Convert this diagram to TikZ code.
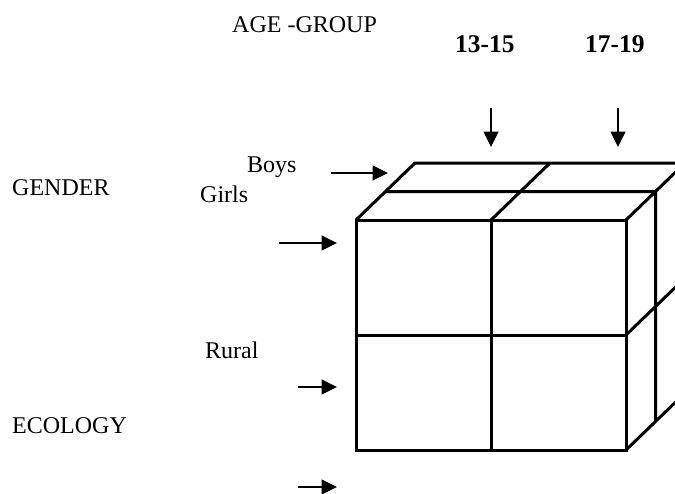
\documentclass[tikz,border=0pt]{standalone}
\usepackage{fontspec}
\setmainfont{Liberation Serif}
\usetikzlibrary{arrows.meta}

\begin{document}
\begin{tikzpicture}[x=1pt,y=-1pt,
      lbl/.style={anchor=base west,inner sep=0pt,font=\fontsize{24}{28}\selectfont},
      agelbl/.style={anchor=base west,inner sep=0pt,font=\fontsize{25.5}{30}\selectfont\bfseries},
      pointer/.style={line width=1.3pt,-{Triangle[length=15.5pt,width=15pt]}},
      cube/.style={line width=3pt}]
      \useasboundingbox (0,0) rectangle (675,493);
      \clip (0,0) rectangle (675,493);
      \node[lbl] (age) at (232,32) {AGE -GROUP};
      \node[agelbl] (young) at (455,52) {13-15};
      \node[agelbl] (old) at (585,52) {17-19};
      \node[lbl] (boys) at (247,172) {Boys};
      \node[lbl] (girls) at (200,202) {Girls};
      \node[lbl] (gender) at (12,195) {GENDER};
      \node[lbl] (rural) at (205,358) {Rural};
      \node[lbl] (ecology) at (12,433) {ECOLOGY};
      \begin{scope}[cube]
            \draw (356,220) rectangle (626,450) (491,220) -- (491,450) (356,335) -- (626,335);
            \draw (356,220) -- (415,163) -- (685,163) -- (626,220) (385.5,191.5) -- (655.5,191.5) (491,220) -- (550,163);
            \draw (626,335) -- (685,278) (626,450) -- (685,393) -- (685,163) (655.5,191.5) -- (655.5,421.5);
      \end{scope}
      \coordinate (youngtop) at (491,108); \coordinate (youngtip) at (491,147);
      \coordinate (oldtop) at (618,108); \coordinate (oldtip) at (618,147);
      \coordinate (boystail) at (331,173); \coordinate (boystip) at (388,173);
      \coordinate (girlstail) at (279,243); \coordinate (girlstip) at (337,243);
      \coordinate (ruraltail) at (298,387); \coordinate (ruraltip) at (337,387);
      \coordinate (urbantail) at (298,487); \coordinate (urbantip) at (337,487);
      \draw[pointer] (youngtop) -- (youngtip);
      \draw[pointer] (oldtop) -- (oldtip);
      \draw[pointer] (boystail) -- (boystip);
      \draw[pointer] (girlstail) -- (girlstip);
      \draw[pointer] (ruraltail) -- (ruraltip);
      \draw[pointer] (urbantail) -- (urbantip);
\end{tikzpicture}
\end{document}
